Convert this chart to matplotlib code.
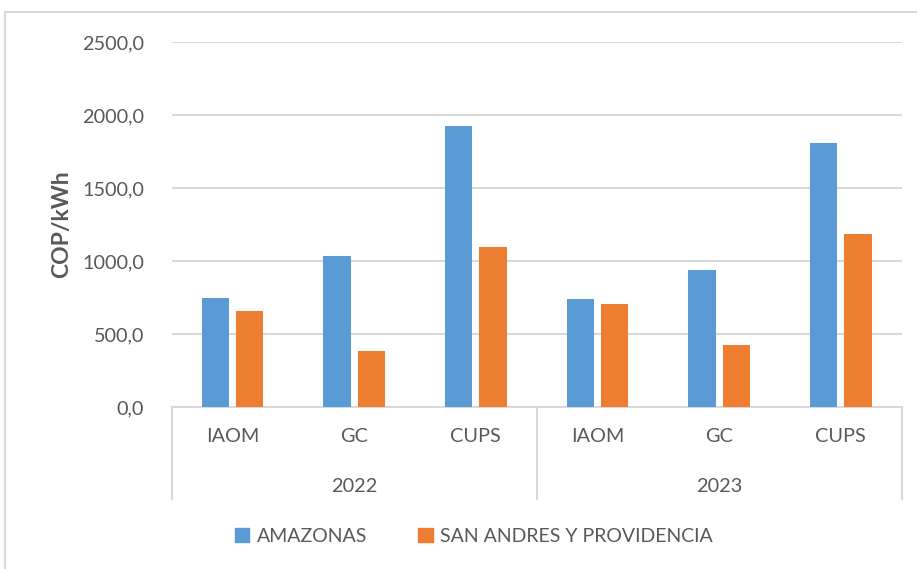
import matplotlib
matplotlib.use("Agg")
import matplotlib.pyplot as plt
from matplotlib.transforms import blended_transform_factory
from matplotlib.lines import Line2D
from matplotlib.patches import Patch

years = ["2022", "2023"]
indicators = ["IAOM", "GC", "CUPS"]
series_names = ["AMAZONAS", "SAN ANDRES Y PROVIDENCIA"]
amazonas = [744, 1036, 1925, 742, 938, 1808]
san_andres = [660, 381, 1096, 705, 422, 1187]
yticks = [0, 500, 1000, 1500, 2000, 2500]

BLUE = "#5B9BD5"
ORANGE = "#ED7D31"
GRID = "#D9D9D9"
TXT = "#595959"
FONT = "Lato"

plt.rcParams["font.family"] = [FONT, "DejaVu Sans"]

W, H = 917, 569
fig = plt.figure(figsize=(W / 100, H / 100), dpi=100)

# chart frame (top and left visible)
fig.add_artist(Line2D([5 / W, 5 / W], [0, 1 - 12 / H], color=GRID, lw=1.5))
fig.add_artist(Line2D([5 / W, 1], [1 - 12 / H, 1 - 12 / H], color=GRID, lw=1.5))

left, right = 171.7, 901.5
bottom, top = 407, 42
ax = fig.add_axes([left / W, 1 - bottom / H, (right - left) / W, (bottom - top) / H])

n = len(amazonas)
x = list(range(n))
off = 0.141
bw = 0.225
ax.bar([i - off for i in x], amazonas, width=bw, color=BLUE, zorder=3)
ax.bar([i + off for i in x], san_andres, width=bw, color=ORANGE, zorder=3)

ax.set_xlim(-0.5, n - 0.5)
ax.set_ylim(0, 2500)
ax.set_yticks(yticks)
ax.set_yticklabels([f"{v:.1f}".replace(".", ",") for v in yticks], fontsize=14.3, color=TXT)
ax.tick_params(axis="y", length=0, pad=20)
ax.set_xticks([])
ax.yaxis.grid(True, color=GRID, lw=1.5, zorder=0)
for s in ["top", "right", "left"]:
    ax.spines[s].set_visible(False)
ax.spines["bottom"].set_color(GRID)
ax.spines["bottom"].set_linewidth(1.5)

ax.set_ylabel("COP/kWh", fontsize=16.5, fontweight="bold", color=TXT, labelpad=7)

tr = blended_transform_factory(ax.transData, ax.transAxes)
h_px = bottom - top
y_end = -(499 - bottom) / h_px
for xv in [-0.5, 2.5, n - 0.5]:
    ax.add_artist(Line2D([xv, xv], [0, y_end], transform=tr, color=GRID, lw=1.5, clip_on=False))

cat_y = -(437 - bottom) / h_px
year_y = -(486 - bottom) / h_px
labels = indicators * len(years)
for i, lab in enumerate(labels):
    ax.text(i, cat_y, lab, transform=tr, ha="center", va="center", fontsize=14.3, color=TXT)
for j, yr in enumerate(years):
    ax.text(j * 3 + 1, year_y, yr, transform=tr, ha="center", va="center", fontsize=14.3, color=TXT)

handles = [Patch(color=BLUE), Patch(color=ORANGE)]
fig.legend(handles, series_names, loc="center", bbox_to_anchor=(474 / W, 1 - 536 / H),
           ncol=2, frameon=False, fontsize=14, labelcolor=TXT, handlelength=0.75,
           handleheight=0.75, handletextpad=0.4, columnspacing=2.6)

fig.savefig("out.png", dpi=100, facecolor="white")
